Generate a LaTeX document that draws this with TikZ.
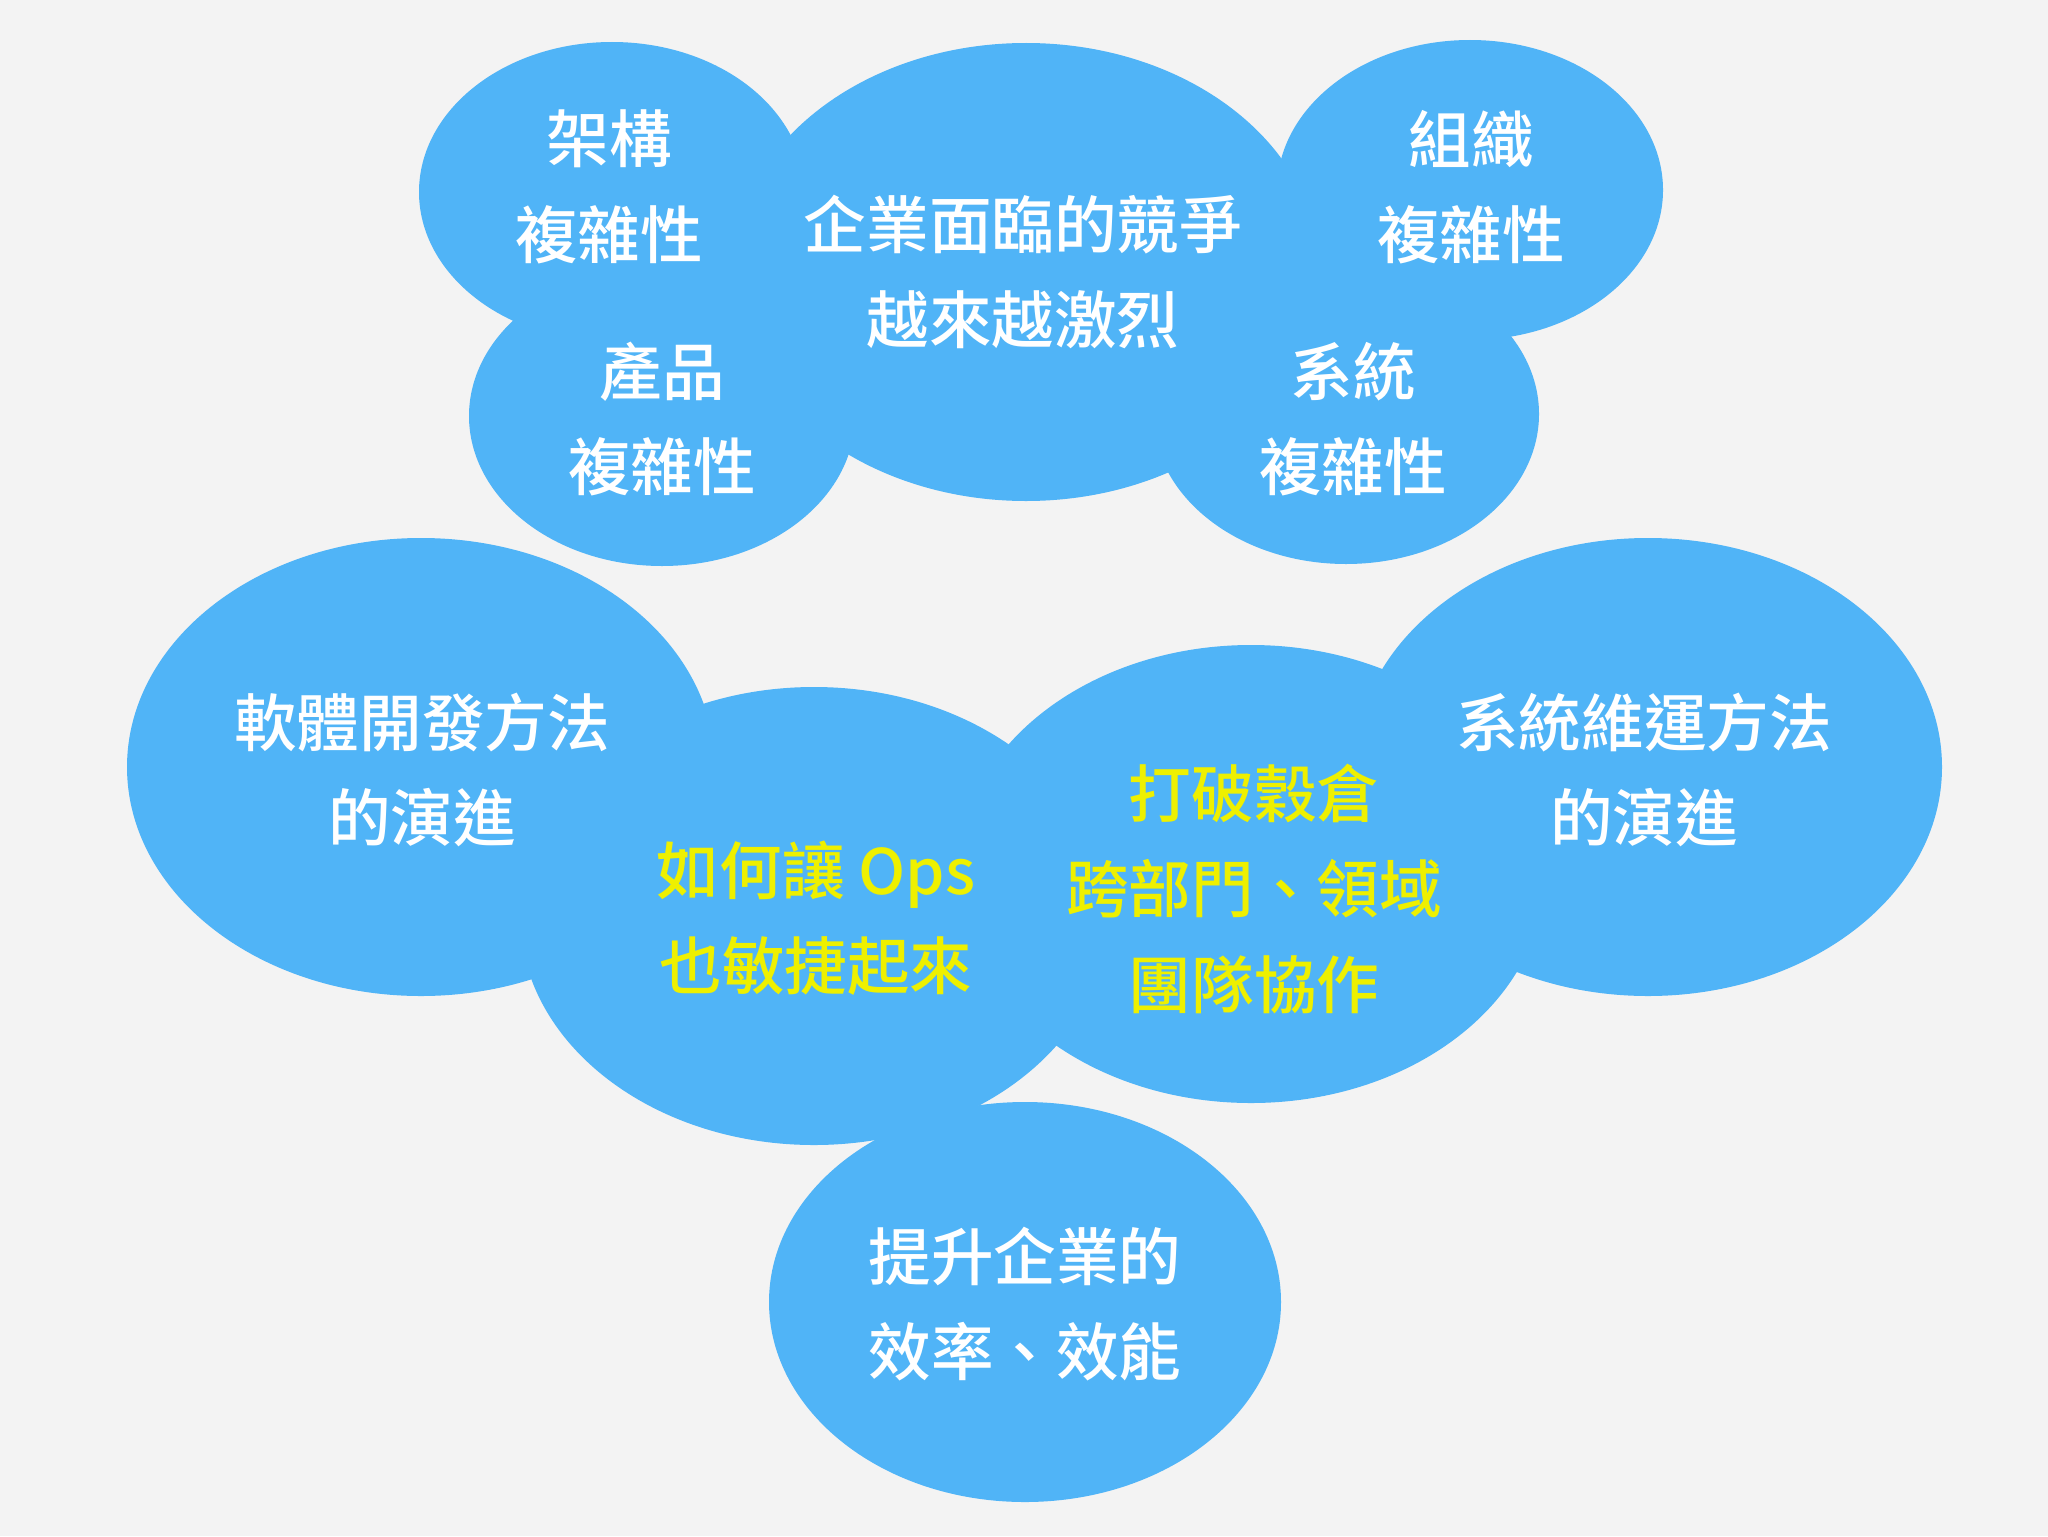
\documentclass[tikz,border=0pt]{standalone}
\usepackage{fontspec}
\setmainfont{Noto Sans CJK TC}[UprightFont=* Medium]
\usetikzlibrary{shapes.geometric}
\definecolor{bgc}{RGB}{243,243,243}
\definecolor{blob}{RGB}{80,180,247}
\definecolor{hl}{RGB}{238,240,0}
\begin{document}
\begin{tikzpicture}[x=0.5pt,y=-0.5pt,
  blobbig/.style={ellipse, fill=blob, draw=none, inner sep=0pt, minimum width=294pt, minimum height=229pt},
  blobsmall/.style={ellipse, fill=blob, draw=none, inner sep=0pt, minimum width=193pt, minimum height=150pt},
  blobgoal/.style={ellipse, fill=blob, draw=none, inner sep=0pt, minimum width=256pt, minimum height=200pt},
  lbl/.style={text=white, align=center, inner sep=0pt, font=\fontsize{31.3}{47.7}\selectfont},
  hllbl/.style={lbl, text=hl}]
\useasboundingbox (0,0) rectangle (2048,1536);
\fill[bgc] (0,0) rectangle (2048,1536);
% top cluster
\node[blobsmall] (e1) at (612,192) {};
\node[blobbig]   (e2) at (1026,272) {};
\node[blobsmall] (e3) at (1470,190) {};
\node[blobsmall] (e4) at (662,416) {};
\node[blobsmall] (e5) at (1346,414) {};
% middle cluster
\node[blobbig] (e6) at (421,767) {};
\node[blobbig] (e7) at (814,916) {};
\node[blobbig] (e8) at (1251,874) {};
\node[blobbig] (e9) at (1648,767) {};
% bottom
\node[blobgoal] (e10) at (1025,1302) {};
% labels
\node[lbl] (t1) at (609,187) {架構\\複雜性};
\node[lbl] (t2) at (1023,272) {企業面臨的競爭\\越來越激烈};
\node[lbl] (t3) at (1471,187) {組織\\複雜性};
\node[lbl] (t4) at (662,419) {產品\\複雜性};
\node[lbl] (t5) at (1353,419) {系統\\複雜性};
\node[lbl] (t6) at (422,770) {軟體開發方法\\的演進};
\node[hllbl] (t7) at (816,918) {如何讓 Ops\\也敏捷起來};
\node[hllbl] (t8) at (1254,889) {打破穀倉\\跨部門、領域\\團隊協作};
\node[lbl] (t9) at (1644,770) {系統維運方法\\的演進};
\node[lbl] (t10) at (1025,1304) {提升企業的\\效率、效能};
\end{tikzpicture}
\end{document}
